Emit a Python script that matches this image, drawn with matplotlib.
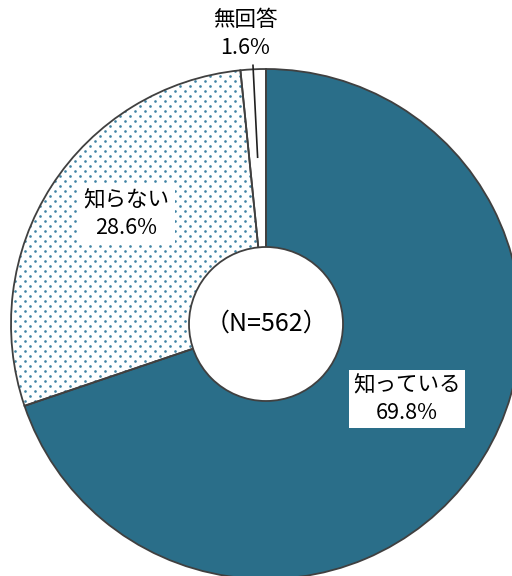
import numpy as np
import matplotlib
matplotlib.use("Agg")
import matplotlib.pyplot as plt
from matplotlib.patches import Circle

plt.rcParams['font.family'] = ['Noto Sans CJK JP', 'DejaVu Sans']

categories = ['知っている', '知らない', '無回答']
values = [69.8, 28.6, 1.6]
sample_label = '（N=562）'

teal = '#2A6E89'
dot_color = '#3F84A4'
edge = '#404040'

W, H = 512, 576
fig = plt.figure(figsize=(W / 100, H / 100), dpi=100)
ax = fig.add_axes([0, 0, 1, 1])

cx, cy, R = 266, 252, 255
# fill layer
wedges, _ = ax.pie(values, startangle=90, counterclock=False, center=(cx, cy), radius=R,
                   colors=[teal, 'white', 'white'],
                   wedgeprops=dict(linewidth=0, edgecolor='none'), frame=True)
# outline layer
ax.pie(values, startangle=90, counterclock=False, center=(cx, cy), radius=R,
       colors=['none'] * 3,
       wedgeprops=dict(linewidth=1.3, edgecolor=edge, fill=False, zorder=4), frame=True)
ax.set_xlim(0, W)
ax.set_ylim(0, H)
ax.set_aspect('equal')
ax.axis('off')

# dotted texture for the second wedge, clipped to it
gx, gy = [], []
for i, y in enumerate(np.arange(0, H, 5.0)):
    off = 5.0 if i % 2 else 0.0
    for x in np.arange(off, W, 10.0):
        gx.append(x)
        gy.append(y)
dots = ax.scatter(gx, gy, s=3.6, color=dot_color, linewidths=0, zorder=3)
dots.set_clip_path(wedges[1])

# hole
ax.add_patch(Circle((cx, cy), 77, facecolor='white', edgecolor=edge, linewidth=1.3, zorder=5))
ax.text(cx, cy, sample_label, ha='center', va='center', fontsize=18, zorder=6)

# labels
fs = 15.5
ax.text(407, 576 - 399, f'{categories[0]}\n{values[0]:.1f}%', ha='center', va='center',
        fontsize=fs, linespacing=1.35, bbox=dict(boxstyle='square,pad=0.2', facecolor='white', edgecolor='none'), zorder=7)
ax.text(126, 576 - 214, f'{categories[1]}\n{values[1]:.1f}%', ha='center', va='center',
        fontsize=fs, linespacing=1.35, bbox=dict(boxstyle='square,pad=0.3', facecolor='white', edgecolor='none'), zorder=7)

# 無回答 leader + label
start = 90 - (values[0] + values[1]) / 100 * 360
mid = np.deg2rad(start - values[2] / 100 * 360 / 2)
r0, r1 = 167, 259
ax.plot([cx + r0 * np.cos(mid), cx + r1 * np.cos(mid)],
        [cy + r0 * np.sin(mid), cy + r1 * np.sin(mid)], color='#202020', linewidth=1.2, zorder=7)
ax.text(245, 576 - 34, f'{categories[2]}\n{values[2]:.1f}%', ha='center', va='center',
        fontsize=fs, linespacing=1.35, zorder=7)

fig.savefig('out.png', dpi=100)
